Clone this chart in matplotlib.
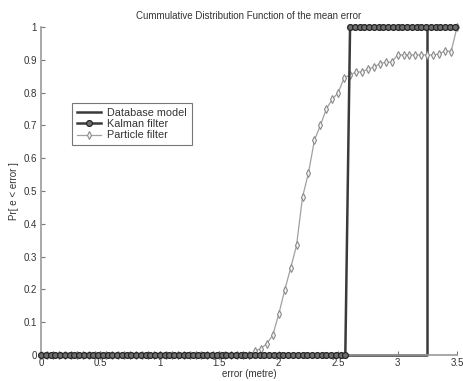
import numpy as np
import matplotlib
matplotlib.use('Agg')
import matplotlib.pyplot as plt

plt.rcParams['font.family'] = ['Liberation Sans', 'DejaVu Sans']

# Database model: a single step
db_x = [0.0, 3.25, 3.25, 3.5]
db_y = [0, 0, 1, 1]

# Kalman filter: sampled every 0.04 m, 0 up to 2.56 then 1
kal_x = np.arange(0, 3.5, 0.04)
kal_y = [0] * 65 + [1] * 23

# Particle filter: sampled every 0.05 m
pf_x = np.round(np.arange(0, 3.5001, 0.05), 2)
pf_y = [0] * 36 + [
    0.012, 0.02, 0.035, 0.061, 0.125, 0.198, 0.265, 0.335, 0.482, 0.555,
    0.655, 0.70, 0.75, 0.78, 0.80, 0.845, 0.854, 0.863, 0.863, 0.872,
    0.878, 0.888, 0.893, 0.893, 0.915, 0.915, 0.915, 0.915, 0.915, 0.915,
    0.915, 0.918, 0.928, 0.925, 1.0]

xticks = [0, 0.5, 1, 1.5, 2, 2.5, 3, 3.5]
yticks = [0, 0.1, 0.2, 0.3, 0.4, 0.5, 0.6, 0.7, 0.8, 0.9, 1]

fig = plt.figure(figsize=(4.64, 3.81), dpi=100)
ax = fig.add_axes([0.0884, 0.068, 0.8966, 0.861])

ax.plot(db_x, db_y, '-', color='#3a3a3a', linewidth=1.8,
        label='Database model', clip_on=False, zorder=2)
ax.plot(pf_x, pf_y, '-', color='#a0a0a0', linewidth=0.9, marker='d',
        markersize=3.6, markerfacecolor='#f4f4f4', markeredgecolor='#8a8a8a',
        markeredgewidth=0.8, label='Particle filter', clip_on=False, zorder=3)
ax.plot(kal_x, kal_y, '-', color='#3a3a3a', linewidth=1.8, marker='o',
        markersize=4.2, markerfacecolor='#6e6e6e', markeredgecolor='#262626',
        markeredgewidth=0.9, label='Kalman filter', clip_on=False, zorder=4)

ax.set_xlim(0, 3.5)
ax.set_ylim(0, 1)
ax.set_xticks(xticks)
ax.set_xticklabels(['0', '0.5', '1', '1.5', '2', '2.5', '3', '3.5'])
ax.set_yticks(yticks)
ax.set_yticklabels(['0', '0.1', '0.2', '0.3', '0.4', '0.5', '0.6', '0.7',
                    '0.8', '0.9', '1'])
ax.tick_params(direction='in', length=3, width=0.8, color='#777777',
               labelsize=7, labelcolor='#333333')
ax.tick_params(axis='x', pad=2)
ax.tick_params(axis='y', pad=3)

ax.spines['top'].set_visible(False)
ax.spines['right'].set_visible(False)
ax.spines['left'].set_color('#999999')
ax.spines['bottom'].set_color('#999999')
ax.spines['left'].set_linewidth(1.2)
ax.spines['bottom'].set_linewidth(1.2)

ax.set_title('Cummulative Distribution Function of the mean error',
             fontsize=7, color='#333333', pad=6)
ax.set_xlabel('error (metre)', fontsize=7, color='#333333', labelpad=1)
ax.set_ylabel('Pr[ e < error ]', fontsize=7, color='#333333', labelpad=3)

# legend order as in the reference
h, l = ax.get_legend_handles_labels()
order = [0, 2, 1]
leg = ax.legend([h[i] for i in order], [l[i] for i in order],
                loc='upper left', bbox_to_anchor=(0.062, 0.785), fontsize=7.8,
                frameon=True, fancybox=False, borderpad=0.45,
                labelspacing=0.12, handlelength=2.2, handletextpad=0.6)
leg.get_frame().set_edgecolor('#555555')
leg.get_frame().set_linewidth(0.8)
for t in leg.get_texts():
    t.set_color('#333333')

fig.savefig('out.png', dpi=100)
